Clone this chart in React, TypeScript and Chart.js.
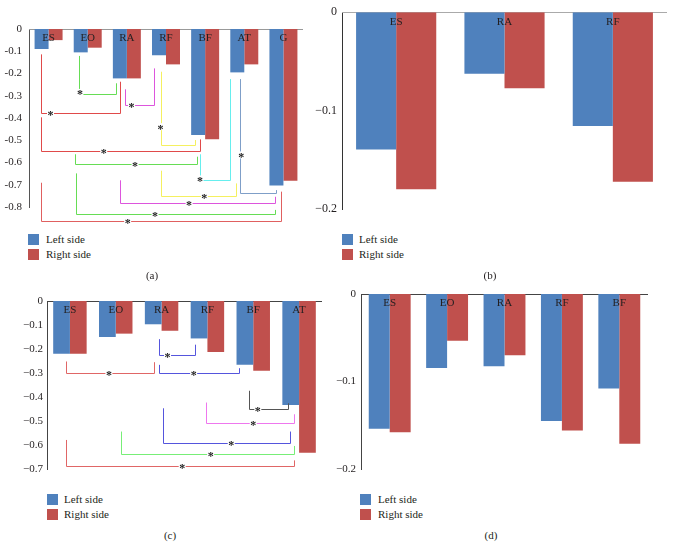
import React, { useEffect, useRef } from "react";
import { Chart, registerables } from "chart.js";

Chart.register(...registerables);

const SERIES_LABELS = ["Left side", "Right side"];
const BLUE = "#4F81BD";
const RED = "#C0504D";
const SERIF = "'Liberation Serif', 'Times New Roman', serif";
const TEXT = "#231f20";

// ---- Panel (a)
const catsA = ["ES", "EO", "RA", "RF", "BF", "AT", "G"];
const leftA = [-0.09, -0.105, -0.222, -0.118, -0.476, -0.195, -0.703];
const rightA = [-0.05, -0.084, -0.222, -0.159, -0.496, -0.159, -0.682];
const ticksA = ["0", "-0.1", "-0.2", "-0.3", "-0.4", "-0.5", "-0.6", "-0.7", "-0.8"];

// ---- Panel (b)
const catsB = ["ES", "RA", "RF"];
const leftB = [-0.1395, -0.0625, -0.1156];
const rightB = [-0.18, -0.0773, -0.1724];
const ticksB = ["0", "\u22120.1", "\u22120.2"];

// ---- Panel (c)
const catsC = ["ES", "EO", "RA", "RF", "BF", "AT"];
const leftC = [-0.22, -0.15, -0.097, -0.156, -0.266, -0.433];
const rightC = [-0.22, -0.136, -0.124, -0.213, -0.291, -0.632];
const ticksC = ["0", "\u22120.1", "\u22120.2", "\u22120.3", "\u22120.4", "\u22120.5", "\u22120.6", "\u22120.7"];

// ---- Panel (d)
const catsD = ["ES", "EO", "RA", "RF", "BF"];
const leftD = [-0.154, -0.0846, -0.0827, -0.145, -0.108];
const rightD = [-0.158, -0.0533, -0.07, -0.156, -0.171];
const ticksD = ["0", "\u22120.1", "\u22120.2"];

// significance brackets: x in category index units, y in data units
type Bracket = { x1: number; x2: number; y: number; s1: number; s2: number; sx: number; sy: number; c: string };

const bracketsA: Bracket[] = [
  { x1: -0.19, x2: 1.83, y: -0.379, s1: -0.114, s2: -0.237, sx: 0.05, sy: -0.379, c: "#e04a4a" },
  { x1: 0.79, x2: 1.72, y: -0.294, s1: -0.121, s2: -0.244, sx: 0.8, sy: -0.285, c: "#66dd55" },
  { x1: 1.95, x2: 2.7, y: -0.343, s1: -0.271, s2: -0.177, sx: 2.12, sy: -0.343, c: "#dd55dd" },
  { x1: 2.86, x2: 3.75, y: -0.521, s1: -0.192, s2: -0.499, sx: 2.86, sy: -0.439, c: "#f5f060" },
  { x1: -0.19, x2: 3.87, y: -0.547, s1: -0.397, s2: -0.496, sx: 1.41, sy: -0.547, c: "#e04a4a" },
  { x1: 0.68, x2: 3.79, y: -0.607, s1: -0.563, s2: -0.574, sx: 2.21, sy: -0.607, c: "#66dd55" },
  { x1: 3.87, x2: 4.64, y: -0.68, s1: -0.563, s2: -0.225, sx: 3.87, sy: -0.674, c: "#66eeee" },
  { x1: 4.89, x2: 5.81, y: -0.739, s1: -0.225, s2: -0.724, sx: 4.92, sy: -0.566, c: "#7f9fc8" },
  { x1: 2.86, x2: 4.79, y: -0.749, s1: -0.637, s2: -0.694, sx: 3.98, sy: -0.749, c: "#f5f060" },
  { x1: 1.83, x2: 5.79, y: -0.784, s1: -0.68, s2: -0.754, sx: 3.59, sy: -0.784, c: "#dd55dd" },
  { x1: 0.7, x2: 5.79, y: -0.833, s1: -0.649, s2: -0.813, sx: 2.72, sy: -0.833, c: "#66dd55" },
  { x1: -0.19, x2: 5.94, y: -0.863, s1: -0.691, s2: -0.731, sx: 2.02, sy: -0.863, c: "#e06060" },
];

const bracketsC: Bracket[] = [
  { x1: -0.08, x2: 1.825, y: -0.302, s1: -0.252, s2: -0.255, sx: 0.85, sy: -0.302, c: "#e06666" },
  { x1: 1.94, x2: 2.72, y: -0.225, s1: -0.159, s2: -0.182, sx: 2.13, sy: -0.225, c: "#5555dd" },
  { x1: 1.94, x2: 3.69, y: -0.302, s1: -0.266, s2: -0.28, sx: 2.7, sy: -0.302, c: "#5555dd" },
  { x1: 3.9, x2: 4.76, y: -0.449, s1: -0.374, s2: -0.426, sx: 4.1, sy: -0.449, c: "#555555" },
  { x1: 2.96, x2: 4.88, y: -0.507, s1: -0.423, s2: -0.472, sx: 4.0, sy: -0.507, c: "#ee77ee" },
  { x1: 2.02, x2: 4.81, y: -0.593, s1: -0.447, s2: -0.544, sx: 3.52, sy: -0.593, c: "#5555dd" },
  { x1: 1.12, x2: 4.88, y: -0.639, s1: -0.544, s2: -0.604, sx: 3.07, sy: -0.639, c: "#77ee77" },
  { x1: -0.08, x2: 4.88, y: -0.687, s1: -0.579, s2: -0.664, sx: 2.45, sy: -0.687, c: "#e06666" },
];

interface PanelSpec {
  box: [number, number, number, number];
  area: [number, number, number, number];
  cats: string[];
  left: number[];
  right: number[];
  min: number;
  tickLabels: string[];
  tickFont: number;
  tickPad: number;
  catFont: number;
  catPct: number;
  axisColor: string;
  zeroColor: string;
  brackets: Bracket[];
}

const panels: PanelSpec[] = [
  {
    box: [0, 0, 310, 232], area: [29, 29, 303, 207], cats: catsA, left: leftA, right: rightA,
    min: -0.8, tickLabels: ticksA, tickFont: 11, tickPad: 7, catFont: 11, catPct: 0.715,
    axisColor: "#555", zeroColor: "#999", brackets: bracketsA,
  },
  {
    box: [310, 0, 364, 232], area: [342, 11, 667, 209], cats: catsB, left: leftB, right: rightB,
    min: -0.2, tickLabels: ticksB, tickFont: 12, tickPad: 5, catFont: 11, catPct: 0.74,
    axisColor: "#333", zeroColor: "#aaa", brackets: [],
  },
  {
    box: [0, 280, 330, 210], area: [47, 301, 322, 469], cats: catsC, left: leftC, right: rightC,
    min: -0.7, tickLabels: ticksC, tickFont: 11, tickPad: 4, catFont: 11, catPct: 0.73,
    axisColor: "#444", zeroColor: "#444", brackets: bracketsC,
  },
  {
    box: [330, 280, 344, 210], area: [361, 294, 648, 469], cats: catsD, left: leftD, right: rightD,
    min: -0.2, tickLabels: ticksD, tickFont: 11, tickPad: 5, catFont: 11, catPct: 0.73,
    axisColor: "#444", zeroColor: "#444", brackets: [],
  },
];

const legends = [
  { x: 28, y: 234, tx: 46 },
  { x: 342, y: 234, tx: 359 },
  { x: 47, y: 494, tx: 64 },
  { x: 360, y: 494, tx: 378 },
];

const captions = [
  { t: "(a)", x: 152, y: 275 },
  { t: "(b)", x: 490, y: 275 },
  { t: "(c)", x: 170, y: 535 },
  { t: "(d)", x: 491, y: 535 },
];

function Panel({ spec }: { spec: PanelSpec }) {
  const ref = useRef<HTMLCanvasElement>(null);
  useEffect(() => {
    const [bx, by, bw, bh] = spec.box;
    const [L, T, R, B] = spec.area;
    const overlay = {
      id: "overlay",
      beforeDatasetsDraw(chart: any) {
        const { ctx, chartArea, scales } = chart;
        const y0 = Math.round(scales.y.getPixelForValue(0)) + 0.5;
        ctx.save();
        ctx.strokeStyle = spec.zeroColor;
        ctx.lineWidth = 1;
        ctx.beginPath();
        ctx.moveTo(chartArea.left, y0);
        ctx.lineTo(chartArea.right, y0);
        ctx.stroke();
        ctx.restore();
      },
      afterDatasetsDraw(chart: any) {
        const { ctx, scales } = chart;
        const xs = scales.x;
        const ys = scales.y;
        ctx.save();
        ctx.lineWidth = 1;
        for (const b of spec.brackets) {
          const X1 = Math.round(xs.getPixelForValue(b.x1)) + 0.5;
          const X2 = Math.round(xs.getPixelForValue(b.x2)) + 0.5;
          const Y = Math.round(ys.getPixelForValue(b.y)) + 0.5;
          ctx.strokeStyle = b.c;
          ctx.beginPath();
          ctx.moveTo(X1, ys.getPixelForValue(b.s1));
          ctx.lineTo(X1, Y);
          ctx.lineTo(X2, Y);
          ctx.lineTo(X2, ys.getPixelForValue(b.s2));
          ctx.stroke();
        }
        for (const b of spec.brackets) {
          const SX = xs.getPixelForValue(b.sx);
          const SY = ys.getPixelForValue(b.sy);
          ctx.fillStyle = "#ffffff";
          ctx.fillRect(SX - 3.5, SY - 3.5, 7, 7);
          ctx.fillStyle = "#222";
          ctx.font = `bold 12px ${SERIF}`;
          ctx.textAlign = "center";
          ctx.textBaseline = "alphabetic";
          ctx.fillText("*", SX, SY + 6);
        }
        ctx.fillStyle = TEXT;
        ctx.font = `${spec.catFont}px ${SERIF}`;
        ctx.textAlign = "center";
        ctx.textBaseline = "middle";
        const y0 = ys.getPixelForValue(0);
        spec.cats.forEach((c, i) => {
          ctx.fillText(c, xs.getPixelForValue(i), y0 + 9.5);
        });
        ctx.restore();
      },
    };
    const chart = new Chart(ref.current as HTMLCanvasElement, {
      type: "bar",
      data: {
        labels: spec.cats,
        datasets: [
          { label: SERIES_LABELS[0], data: spec.left, backgroundColor: BLUE, borderWidth: 0, categoryPercentage: spec.catPct, barPercentage: 1 },
          { label: SERIES_LABELS[1], data: spec.right, backgroundColor: RED, borderWidth: 0, categoryPercentage: spec.catPct, barPercentage: 1 },
        ],
      },
      options: {
        animation: false,
        responsive: false,
        layout: { padding: { left: 0, top: T - by, right: bx + bw - R, bottom: by + bh - B } },
        plugins: { legend: { display: false }, tooltip: { enabled: false } },
        scales: {
          x: { display: false },
          y: {
            min: spec.min,
            max: 0,
            afterFit: (s: any) => {
              s.width = L - bx;
            },
            ticks: {
              stepSize: 0.1,
              padding: spec.tickPad,
              color: TEXT,
              autoSkip: false,
              font: { family: SERIF, size: spec.tickFont },
              callback: (v: any) => spec.tickLabels[Math.round(-Number(v) * 10)] ?? "",
            },
            grid: { display: false, drawTicks: false },
            border: { display: true, color: spec.axisColor, width: 1 },
          },
        },
      } as any,
      plugins: [overlay],
    });
    return () => chart.destroy();
  }, []);
  const [bx, by, bw, bh] = spec.box;
  return (
    <canvas
      ref={ref}
      width={bw}
      height={bh}
      style={{ position: "absolute", left: bx, top: by, width: bw, height: bh }}
    />
  );
}

function Legend({ x, y, tx }: { x: number; y: number; tx: number }) {
  const rows = [BLUE, RED];
  return (
    <>
      {rows.map((col, i) => (
        <React.Fragment key={i}>
          <div style={{ position: "absolute", left: x, top: y + i * 15, width: 11, height: 11, background: col }} />
          <div
            style={{
              position: "absolute",
              left: tx,
              top: y + i * 15 - 2,
              height: 15,
              lineHeight: "15px",
              fontSize: 11,
              fontFamily: SERIF,
              color: TEXT,
              whiteSpace: "nowrap",
            }}
          >
            {SERIES_LABELS[i]}
          </div>
        </React.Fragment>
      ))}
    </>
  );
}

export default function App() {
  return (
    <div style={{ position: "absolute", left: 0, top: 0, width: 674, height: 557, background: "#fff", overflow: "hidden" }}>
      {panels.map((p, i) => (
        <Panel key={i} spec={p} />
      ))}
      {legends.map((l, i) => (
        <Legend key={i} x={l.x} y={l.y} tx={l.tx} />
      ))}
      {captions.map((c, i) => (
        <div
          key={i}
          style={{
            position: "absolute",
            left: c.x - 20,
            top: c.y - 8,
            width: 40,
            height: 16,
            lineHeight: "16px",
            textAlign: "center",
            fontSize: 11,
            fontFamily: SERIF,
            color: TEXT,
          }}
        >
          {c.t}
        </div>
      ))}
    </div>
  );
}
